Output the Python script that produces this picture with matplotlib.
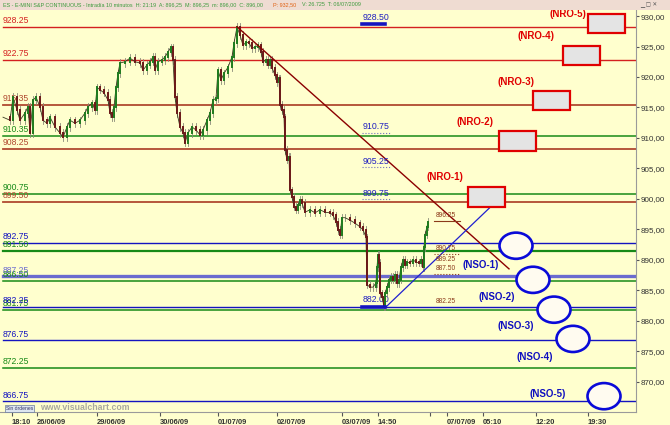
import matplotlib
matplotlib.use("Agg")
import matplotlib.pyplot as plt
from matplotlib.patches import Rectangle, Ellipse

plt.rcParams['font.family'] = ['Liberation Sans', 'DejaVu Sans']

# price path (bar position, price)
bar_x = [3, 10, 13, 17, 20, 25, 28, 30, 33, 36, 40, 43, 47, 50, 55, 60, 63, 67, 70, 75,
         80, 85, 88, 92, 95, 97, 100, 104, 108, 110, 112, 114, 116, 118, 120, 125, 130, 135,
         140, 143, 147, 150, 153, 155, 158, 162, 165, 168, 171, 173, 175, 177, 180, 183, 185,
         188, 192, 196, 200, 203, 207, 210, 213, 216, 218, 221, 224, 228, 232, 234, 237, 240,
         243, 246, 249, 252, 255, 258, 261, 263, 266, 268, 270, 272, 275, 277, 279, 280, 282,
         284, 285, 287, 289, 290, 292, 294, 296, 298, 300, 302, 305, 310, 315, 320, 325, 330,
         333, 336, 338, 340, 342, 345, 350, 355, 360, 363, 366, 367, 370, 373, 376, 377, 378,
         379, 380, 382, 384, 385, 387, 389, 391, 393, 395, 397, 399, 401, 403, 405, 407, 410,
         413, 416, 419, 421, 423, 424, 425, 427, 428]
price = [913.4, 912.9, 916.7, 914.6, 912.9, 914.1, 915.1, 910.8, 916.2, 916.7, 915.1, 912.9,
         912.4, 913.4, 911.8, 910.8, 910.1, 911.8, 912.9, 912.4, 912.9, 914.1, 915.1, 915.7,
         914.6, 918.3, 917.9, 917.4, 916.2, 914.1, 913.4, 915.1, 918.3, 920.6, 922.3, 922.5,
         923.1, 922.5, 922.3, 921.1, 922.0, 922.5, 923.3, 921.1, 922.5, 922.8, 923.3, 924.1,
         924.9, 922.8, 916.7, 914.1, 911.8, 910.8, 909.2, 910.8, 911.8, 911.3, 910.5, 911.3,
         912.9, 914.1, 916.2, 916.5, 921.1, 919.5, 920.6, 921.6, 923.3, 925.6, 928.2, 926.9,
         925.2, 925.7, 925.6, 924.7, 924.9, 925.2, 924.1, 922.5, 922.8, 922.0, 922.8, 921.5,
         920.3, 919.2, 919.8, 915.4, 914.6, 913.4, 908.0, 906.4, 906.9, 901.4, 900.3, 898.7,
         898.2, 899.0, 899.8, 899.3, 897.8, 898.2, 897.7, 898.2, 897.8, 897.7, 897.3, 896.2,
         894.9, 894.1, 896.9, 896.9, 896.5, 896.0, 895.4, 894.9, 893.7, 885.9, 885.5, 885.5,
         886.2, 888.8, 890.8, 889.5, 884.5, 883.9, 882.3, 884.5, 885.5, 886.7, 887.2, 886.7,
         887.5, 886.2, 886.7, 888.8, 890.0, 889.2, 889.6, 889.5, 890.0, 889.6, 889.5, 890.0,
         888.8, 892.1, 894.1, 895.4, 896.2]

# horizontal levels
red_levels = ['928.25', '922.75']
brown_levels = ['915.35', '908.25', '899.50']
green_levels = ['910.35', '900.75', '891.50', '886.50', '881.75', '872.25']
blue_levels = ['892.75', '887.25', '882.25', '876.75', '866.75']

# target boxes and support circles
nro_labels = ['(NRO-1)', '(NRO-2)', '(NRO-3)', '(NRO-4)', '(NRO-5)']
nro_top = [901.9, 911.1, 917.7, 925.1, 930.3]
nro_bottom = [898.7, 907.9, 914.6, 922.0, 927.2]
nro_left = [468, 499, 533, 563, 588]
nro_lab_x = [445, 475, 516, 536, 568]
nro_lab_y = [903.6, 912.6, 919.2, 926.7, 930.3]

nso_labels = ['(NSO-1)', '(NSO-2)', '(NSO-3)', '(NSO-4)', '(NSO-5)']
nso_price = [892.3, 886.7, 881.8, 877.0, 867.6]
nso_x = [516, 533, 554, 573, 604]
nso_lab_x = [481, 497, 516, 535, 548]
nso_lab_y = [889.1, 883.9, 879.1, 874.0, 868.0]

tick_pos = [12, 37, 97, 160, 218, 277, 342, 378, 430, 447, 483, 536, 588]
tick_lab = ['18:10', '26/06/09', '29/06/09', '30/06/09', '01/07/09', '02/07/09',
            '03/07/09', '14:50', '', '07/07/09', '05:10', '12:20', '19:30']

bg = '#FFFFCE'
fig = plt.figure(figsize=(6.7, 4.25), dpi=100, facecolor=bg)
ax = fig.add_axes([0, 13 / 425, 636 / 670, 402 / 425])
ax.set_facecolor(bg)
ax.set_xlim(0, 636)
ax.set_ylim(865.0, 931.0)

def level(val, color, lw=1.0):
    p = float(val)
    ax.plot([3, 636], [p, p], color=color, lw=lw, zorder=2)
    ax.text(3, p + 0.3, val, color=color, fontsize=6.2, va='bottom', ha='left', zorder=3)

for v in red_levels:
    level(v, '#D42020')
for v in brown_levels:
    level(v, '#B04A30', 1.3)
for v in green_levels:
    level(v, '#178A17', 1.6 if v == '891.50' else 1.1)
for v in blue_levels:
    level(v, '#6B6BCF' if v == '887.25' else '#1414C0', 2.4 if v == '887.25' else 1.0)

# candles
for i in range(1, len(bar_x)):
    lo, hi = min(price[i - 1], price[i]), max(price[i - 1], price[i])
    ax.plot([bar_x[i], bar_x[i]], [lo - 0.6, hi + 0.6], color='#8A8A78', lw=0.6, zorder=4)
    c = '#1E7B1E' if price[i] >= price[i - 1] else '#6B1818'
    ax.plot([bar_x[i], bar_x[i]], [lo, hi], color=c, lw=1.4, zorder=5)
ax.plot(bar_x, price, color='#3A3A20', lw=0.6, zorder=4)

# trend lines
ax.plot([237, 509], [928.25, 888.5], color='#8B0000', lw=1.0, zorder=6)
ax.plot([386, 492], [882.25, 898.9], color='#2020D0', lw=0.9, zorder=6)

# blue labels
ax.text(363, 929.7, '928.50', color='#2020C0', fontsize=6.3, va='center', zorder=7)
ax.plot([362, 385], [928.7, 928.7], color='#1414C0', lw=2.6, zorder=7)
for lab, y in [('910.75', 911.8), ('905.25', 906.2), ('899.75', 900.95)]:
    ax.text(363, y, lab, color='#2020C0', fontsize=6.3, va='center', zorder=7)
    ax.plot([362, 391], [y - 1.0, y - 1.0], color='#7070C0', lw=0.8, ls=':', zorder=7)
ax.text(363, 883.4, '882.00', color='#2020C0', fontsize=6.3, va='center', zorder=3)
ax.plot([362, 385], [882.25, 882.25], color='#1414C0', lw=2.6, zorder=7)

# brown labels
for lab, y, ul in [('896.25', 897.2, '-'), ('890.75', 891.8, ':'), ('889.25', 890.1, None),
                   ('887.50', 888.5, ':'), ('882.25', 883.1, None)]:
    ax.text(436, y, lab, color='#8B3A1A', fontsize=4.8, va='center', zorder=7)
    if ul:
        ax.plot([434, 460], [y - 0.8, y - 0.8], color='#8B3A1A', lw=0.8, ls=ul, zorder=7)

# NRO boxes
for lab, t, b, l, lx, ly in zip(nro_labels, nro_top, nro_bottom, nro_left, nro_lab_x, nro_lab_y):
    ax.add_patch(Rectangle((l, b), 37, t - b, facecolor='#E4E4E4', edgecolor='#E00000',
                           lw=1.6, zorder=8))
    ax.text(lx, ly, lab, color='#E00000', fontsize=7, fontweight='bold',
            ha='center', va='center', zorder=8)

# NSO ellipses
for lab, p, x, lx, ly in zip(nso_labels, nso_price, nso_x, nso_lab_x, nso_lab_y):
    ax.add_patch(Ellipse((x, p), 33, 4.3, facecolor='#FFFBF0', edgecolor='#0A0AD8',
                         lw=1.9, zorder=8))
    ax.text(lx, ly, lab, color='#1010C0', fontsize=7, fontweight='bold',
            ha='center', va='center', zorder=8)

# axes styling
for s in ['top', 'left']:
    ax.spines[s].set_visible(False)
for s in ['right', 'bottom']:
    ax.spines[s].set_color('#9A9A9A')
    ax.spines[s].set_linewidth(0.8)
ax.yaxis.tick_right()
yt = [930, 925, 920, 915, 910, 905, 900, 895, 890, 885, 880, 875, 870]
ax.set_yticks(yt)
ax.set_yticklabels([f'{v},00' for v in yt], fontsize=5.8, color='#333333')
ax.tick_params(axis='y', length=2, pad=1, color='#555555')
ax.set_xticks(tick_pos)
ax.set_xticklabels(tick_lab, fontsize=5.4, fontweight='bold', color='#333333', ha='left')
ax.tick_params(axis='x', length=3, pad=2, color='#555555')

# header bar
fig.patches.append(Rectangle((0, 415 / 425), 1, 10 / 425, transform=fig.transFigure,
                             facecolor='#EFDCD2', edgecolor='none'))
fig.text(3 / 670, 420 / 425, 'ES - E-MINI S&P CONTINUOUS - Intradía 10 minutos  H: 21:19  A: 896,25  '
         'M: 896,25  m: 896,00  C: 896,00', fontsize=3.9, color='#3C9A3C', va='center')
fig.text(273 / 670, 420 / 425, 'P: 932,50', fontsize=3.9, color='#E06010', va='center')
fig.text(302 / 670, 420 / 425, 'V: 26.725  T: 06/07/2009', fontsize=3.9, color='#3C9A3C',
         va='center')
fig.text(640 / 670, 420 / 425, '▁ ▢ ✕', fontsize=4, color='#555555', va='center')

# footer
fig.text(6 / 670, 17 / 425, 'Sin órdenes', fontsize=3.6, color='#333366', va='center',
         bbox=dict(boxstyle='square,pad=0.2', facecolor='#DDE6F0', edgecolor='#6A7A9A', lw=0.5))
fig.text(40 / 670, 17 / 425, 'www.visualchart.com', fontsize=6.3, color='#A8A8A0',
         fontweight='bold', va='center')

fig.savefig('out.png', dpi=100, facecolor=bg)
